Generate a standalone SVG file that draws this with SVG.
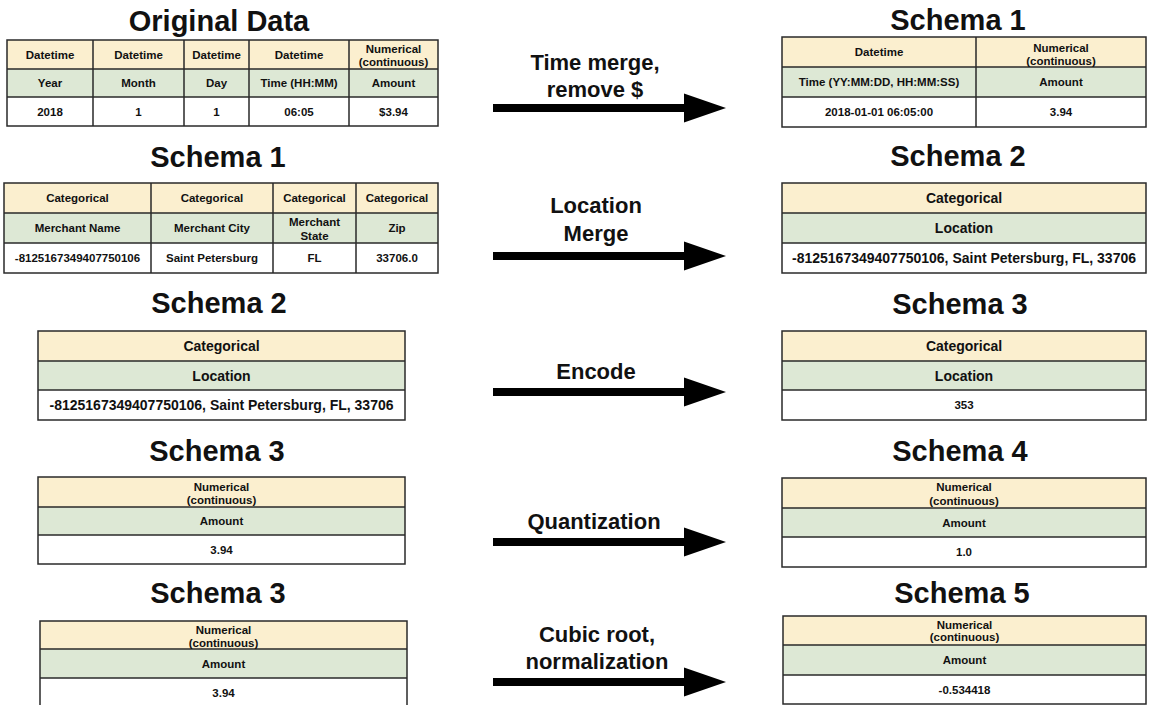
<svg xmlns="http://www.w3.org/2000/svg" width="1149" height="705" viewBox="0 0 1149 705">
<style>
text{font-family:"Liberation Sans",Arial,sans-serif;font-weight:bold;fill:#111;text-anchor:middle}
.title{font-size:29px}
.lbl{font-size:22px}
.t{font-size:11.5px}
.t14{font-size:14px}
.y{fill:#fbefcf}
.g{fill:#dde8d5}
.w{fill:#fff}
.ln{stroke:#2a2a2a;stroke-width:1.5;fill:none}
</style>
<defs>
<path id="arr" d="M0,-4 H191 V-14.5 L233,0 L191,14.5 V4 H0 Z" fill="#000"/>
</defs>
<rect width="1149" height="705" fill="#fff"/>

<g id="original-data">
<text class="title" x="219" y="31">Original Data</text>
<rect class="y" x="7" y="40" width="431" height="29"/>
<rect class="g" x="7" y="69" width="431" height="28"/>
<rect class="w" x="7" y="97" width="431" height="29"/>
<rect class="ln" x="7" y="40" width="431" height="86"/>
<path class="ln" d="M7,69H438M7,97H438M93,40V126M184,40V126M249,40V126M349,40V126"/>
<text class="t" x="50" y="58.5">Datetime</text>
<text class="t" x="138.5" y="58.5">Datetime</text>
<text class="t" x="216.5" y="58.5">Datetime</text>
<text class="t" x="299" y="58.5">Datetime</text>
<text class="t" x="393.5" y="53">Numerical</text>
<text class="t" x="393.5" y="66">(continuous)</text>
<text class="t" x="50" y="87">Year</text>
<text class="t" x="138.5" y="87">Month</text>
<text class="t" x="216.5" y="87">Day</text>
<text class="t" x="299" y="87">Time (HH:MM)</text>
<text class="t" x="393.5" y="87">Amount</text>
<text class="t" x="50" y="115.5">2018</text>
<text class="t" x="138.5" y="115.5">1</text>
<text class="t" x="216.5" y="115.5">1</text>
<text class="t" x="299" y="115.5">06:05</text>
<text class="t" x="393.5" y="115.5">$3.94</text>
</g>

<g id="schema1-right">
<text class="title" x="958" y="30">Schema 1</text>
<rect class="y" x="782" y="37" width="364" height="30"/>
<rect class="g" x="782" y="67" width="364" height="30"/>
<rect class="w" x="782" y="97" width="364" height="30"/>
<rect class="ln" x="782" y="37" width="364" height="90"/>
<path class="ln" d="M782,67H1146M782,97H1146M976,37V127"/>
<text class="t" x="879" y="56">Datetime</text>
<text class="t" x="1061" y="52">Numerical</text>
<text class="t" x="1061" y="65">(continuous)</text>
<text class="t" x="879" y="86">Time (YY:MM:DD, HH:MM:SS)</text>
<text class="t" x="1061" y="86">Amount</text>
<text class="t" x="879" y="116">2018-01-01 06:05:00</text>
<text class="t" x="1061" y="116">3.94</text>
</g>

<g id="schema1-left">
<text class="title" x="218" y="167">Schema 1</text>
<rect class="y" x="4" y="183" width="434" height="30"/>
<rect class="g" x="4" y="213" width="434" height="30"/>
<rect class="w" x="4" y="243" width="434" height="30"/>
<rect class="ln" x="4" y="183" width="434" height="90"/>
<path class="ln" d="M4,213H438M4,243H438M151,183V273M273,183V273M356,183V273"/>
<text class="t" x="77.5" y="202">Categorical</text>
<text class="t" x="212" y="202">Categorical</text>
<text class="t" x="314.5" y="202">Categorical</text>
<text class="t" x="397" y="202">Categorical</text>
<text class="t" x="77.5" y="232">Merchant Name</text>
<text class="t" x="212" y="232">Merchant City</text>
<text class="t" x="314.5" y="226">Merchant</text>
<text class="t" x="314.5" y="240">State</text>
<text class="t" x="397" y="232">Zip</text>
<text class="t" x="77.5" y="262">-8125167349407750106</text>
<text class="t" x="212" y="262">Saint Petersburg</text>
<text class="t" x="314.5" y="262">FL</text>
<text class="t" x="397" y="262">33706.0</text>
</g>

<g id="schema2-right">
<text class="title" x="958" y="166">Schema 2</text>
<rect class="y" x="782" y="183" width="364" height="30"/>
<rect class="g" x="782" y="213" width="364" height="30"/>
<rect class="w" x="782" y="243" width="364" height="30"/>
<rect class="ln" x="782" y="183" width="364" height="90"/>
<path class="ln" d="M782,213H1146M782,243H1146"/>
<text class="t14" x="964" y="203">Categorical</text>
<text class="t14" x="964" y="233">Location</text>
<text class="t14" x="964" y="263">-8125167349407750106, Saint Petersburg, FL, 33706</text>
</g>

<g id="schema2-left">
<text class="title" x="219" y="313">Schema 2</text>
<rect class="y" x="38" y="331" width="367" height="30"/>
<rect class="g" x="38" y="361" width="367" height="29"/>
<rect class="w" x="38" y="390" width="367" height="30"/>
<rect class="ln" x="38" y="331" width="367" height="89"/>
<path class="ln" d="M38,361H405M38,390H405"/>
<text class="t14" x="221.5" y="351">Categorical</text>
<text class="t14" x="221.5" y="380.5">Location</text>
<text class="t14" x="221.5" y="410">-8125167349407750106, Saint Petersburg, FL, 33706</text>
</g>

<g id="schema3-right">
<text class="title" x="960" y="314">Schema 3</text>
<rect class="y" x="782" y="331" width="364" height="30"/>
<rect class="g" x="782" y="361" width="364" height="29"/>
<rect class="w" x="782" y="390" width="364" height="30"/>
<rect class="ln" x="782" y="331" width="364" height="89"/>
<path class="ln" d="M782,361H1146M782,390H1146"/>
<text class="t14" x="964" y="351">Categorical</text>
<text class="t14" x="964" y="380.5">Location</text>
<text class="t" x="964" y="409">353</text>
</g>

<g id="schema3-left">
<text class="title" x="217" y="461">Schema 3</text>
<rect class="y" x="38" y="477" width="367" height="30"/>
<rect class="g" x="38" y="507" width="367" height="28"/>
<rect class="w" x="38" y="535" width="367" height="29"/>
<rect class="ln" x="38" y="477" width="367" height="87"/>
<path class="ln" d="M38,507H405M38,535H405"/>
<text class="t" x="221.5" y="491">Numerical</text>
<text class="t" x="221.5" y="504">(continuous)</text>
<text class="t" x="221.5" y="525">Amount</text>
<text class="t" x="221.5" y="553.5">3.94</text>
</g>

<g id="schema4-right">
<text class="title" x="960" y="461">Schema 4</text>
<rect class="y" x="782" y="478" width="364" height="30"/>
<rect class="g" x="782" y="508" width="364" height="29"/>
<rect class="w" x="782" y="537" width="364" height="30"/>
<rect class="ln" x="782" y="478" width="364" height="89"/>
<path class="ln" d="M782,508H1146M782,537H1146"/>
<text class="t" x="964" y="491">Numerical</text>
<text class="t" x="964" y="505">(continuous)</text>
<text class="t" x="964" y="526.5">Amount</text>
<text class="t" x="964" y="556">1.0</text>
</g>

<g id="schema3-bottom-left">
<text class="title" x="218" y="603">Schema 3</text>
<rect class="y" x="40" y="621" width="367" height="28"/>
<rect class="g" x="40" y="649" width="367" height="29"/>
<rect class="w" x="40" y="678" width="367" height="30"/>
<rect class="ln" x="40" y="621" width="367" height="87"/>
<path class="ln" d="M40,649H407M40,678H407"/>
<text class="t" x="223.5" y="634">Numerical</text>
<text class="t" x="223.5" y="647">(continuous)</text>
<text class="t" x="223.5" y="668">Amount</text>
<text class="t" x="223.5" y="697">3.94</text>
</g>

<g id="schema5-right">
<text class="title" x="962" y="603">Schema 5</text>
<rect class="y" x="783" y="616" width="363" height="29"/>
<rect class="g" x="783" y="645" width="363" height="30"/>
<rect class="w" x="783" y="675" width="363" height="29"/>
<rect class="ln" x="783" y="616" width="363" height="88"/>
<path class="ln" d="M783,645H1146M783,675H1146"/>
<text class="t" x="964.5" y="629">Numerical</text>
<text class="t" x="964.5" y="641">(continuous)</text>
<text class="t" x="964.5" y="664">Amount</text>
<text class="t" x="964.5" y="693.5">-0.534418</text>
</g>

<g id="connectors">
<use href="#arr" x="493" y="108"/>
<use href="#arr" x="493" y="256"/>
<use href="#arr" x="493" y="392"/>
<use href="#arr" x="493" y="542"/>
<use href="#arr" x="493" y="682"/>
<text class="lbl" x="595" y="70">Time merge,</text>
<text class="lbl" x="595" y="97">remove $</text>
<text class="lbl" x="596" y="213">Location</text>
<text class="lbl" x="596" y="241">Merge</text>
<text class="lbl" x="596" y="379">Encode</text>
<text class="lbl" x="594" y="529">Quantization</text>
<text class="lbl" x="597" y="642">Cubic root,</text>
<text class="lbl" x="597" y="669">normalization</text>
</g>
</svg>
